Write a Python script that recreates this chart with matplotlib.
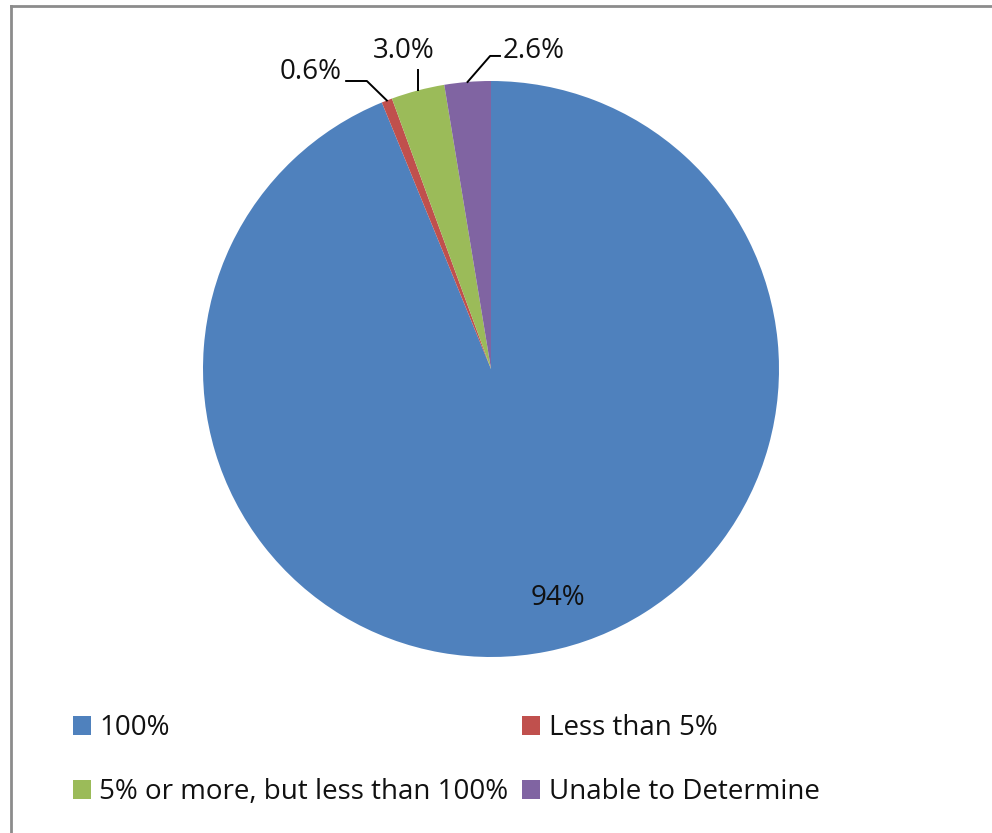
import numpy as np
import matplotlib
matplotlib.use('Agg')
import matplotlib.pyplot as plt
from matplotlib.patches import Patch
from matplotlib.lines import Line2D

plt.rcParams['font.family'] = ['Open Sans', 'DejaVu Sans']

# data
categories = ['100%', 'Less than 5%', '5% or more, but less than 100%', 'Unable to Determine']
values = [94.0, 0.6, 3.0, 2.6]
labels = ['94%', '0.6%', '3.0%', '2.6%']
colors = ['#4F81BD', '#C0504D', '#9BBB59', '#8064A2']

W, H = 992, 833
fig = plt.figure(figsize=(W / 100, H / 100), dpi=100)

# pie centred at (491, 369) px, radius 288 px
cx, cy, r = 491, 369, 288
ax = fig.add_axes([(cx - r) / W, (H - cy - r) / H, 2 * r / W, 2 * r / H])
wedges, _ = ax.pie(values, colors=colors, startangle=90, counterclock=False,
                   radius=1, wedgeprops=dict(linewidth=0))
ax.set_xlim(-1, 1)
ax.set_ylim(-1, 1)
ax.set_aspect('equal')
ax.axis('off')

fs = 20
tc = '#111111'

def edge(w):
    a = np.deg2rad((w.theta1 + w.theta2) / 2)
    return np.cos(a), np.sin(a)

# big slice label inside
ax.text(0.233, -0.795, labels[0], ha='center', va='center', fontsize=fs, color=tc)

# small slice labels with leader lines
x0, y0 = edge(wedges[1])
ax.plot([x0, -0.431, -0.503], [y0, 1.0, 1.0], color='black', lw=1.4, clip_on=False)
ax.text(-0.518, 1.03, labels[1], ha='right', va='center', fontsize=fs, color=tc)

x0, y0 = edge(wedges[2])
ax.plot([x0, x0], [y0, 1.038], color='black', lw=1.4, clip_on=False)
ax.text(-0.302, 1.104, labels[2], ha='center', va='center', fontsize=fs, color=tc)

x0, y0 = edge(wedges[3])
ax.plot([x0, -0.003, 0.031], [y0, 1.087, 1.087], color='black', lw=1.4, clip_on=False)
ax.text(0.040, 1.104, labels[3], ha='left', va='center', fontsize=fs, color=tc)

# legend (column-major order so rows read 100% / Less than 5%, ...)
order = [0, 2, 1, 3]
handles = [Patch(facecolor=colors[i], edgecolor='none') for i in order]
leg = fig.legend(handles, [categories[i] for i in order], ncol=2,
                 loc='upper left', bbox_to_anchor=(48 / W, 1 - 689 / H),
                 frameon=False, fontsize=fs, handlelength=0.65, handleheight=0.65,
                 handletextpad=0.3, columnspacing=0.5, labelspacing=1.3,
                 borderpad=0.4)
for t in leg.get_texts():
    t.set_color(tc)

# chart-area border (left and top only visible)
fig.add_artist(Line2D([10.5 / W, 10.5 / W], [0, 1 - 6 / H], transform=fig.transFigure,
                      color='#8c8c8c', lw=2))
fig.add_artist(Line2D([10.5 / W, 1], [1 - 6 / H, 1 - 6 / H], transform=fig.transFigure,
                      color='#8c8c8c', lw=2))

fig.savefig('out.png', dpi=100)
